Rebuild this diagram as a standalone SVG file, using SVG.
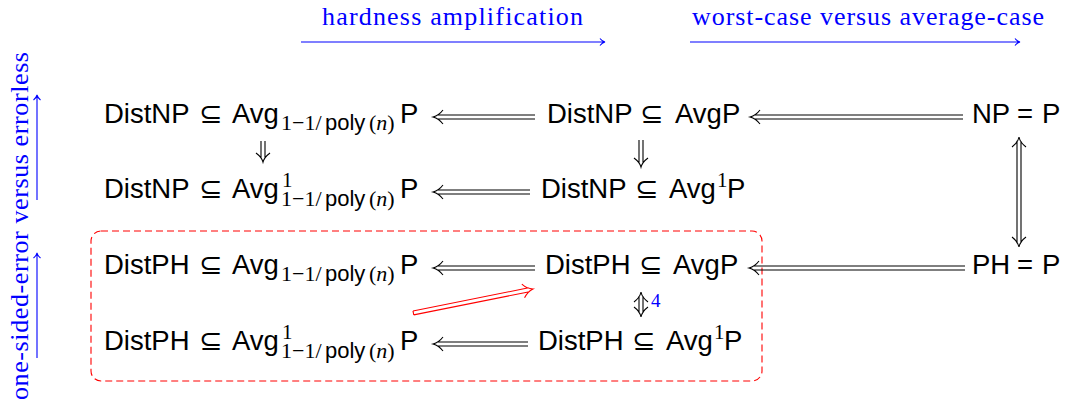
<svg xmlns="http://www.w3.org/2000/svg" width="1072" height="414" viewBox="0 0 1072 414">
<style>
.m{font-family:"Liberation Sans","DejaVu Sans",sans-serif;font-size:27.5px;fill:#000}
.r{font-family:"Liberation Serif","DejaVu Serif",serif;font-size:22px}
.s{font-family:"Liberation Sans","DejaVu Sans",sans-serif;font-size:22px}
.rel{font-family:"DejaVu Sans",sans-serif;font-size:28px}
.sup{font-family:"Liberation Serif","DejaVu Serif",serif;font-size:21px}
.bl{font-family:"Liberation Serif","DejaVu Serif",serif;font-size:26px;fill:#0000ff}
.ln{fill:none;stroke:#000;stroke-width:1.1}
.red{fill:none;stroke:#ff0000;stroke-width:1.1}
.blu{fill:none;stroke:#0000ff;stroke-width:1.1}
</style>
<rect x="0" y="0" width="1072" height="414" fill="#fff"/>

<g id="labels">
<text class="bl" x="452.5" y="25" text-anchor="middle" textLength="261">hardness amplification</text>
<text class="bl" x="868" y="25" text-anchor="middle" textLength="352">worst-case versus average-case</text>
<text class="bl" transform="translate(28,226) rotate(-90)" x="0" y="0" text-anchor="middle" textLength="348">one-sided-error versus errorless</text>
<text x="651" y="307" font-family="Liberation Serif, serif" font-size="19" fill="#0000ff">4</text>
</g>

<rect id="box" x="91" y="231" width="671" height="150" rx="10" fill="none" stroke="#ff0000" stroke-width="1.1" stroke-dasharray="7 4"/>

<g id="n1" class="m"><text y="123"><tspan x="104">DistNP</tspan><tspan class="rel" x="199">⊆</tspan><tspan x="232">Avg</tspan><tspan class="r" x="281" y="130">1−1/</tspan><tspan class="s" x="325" y="130">poly</tspan><tspan class="r" x="369" y="130">(<tspan font-style="italic">n</tspan>)</tspan><tspan x="400" y="123">P</tspan></text></g>
<g id="n2" class="m"><text y="123"><tspan x="547">DistNP</tspan><tspan class="rel" x="640">⊆</tspan><tspan x="675">AvgP</tspan></text></g>
<g id="n3" class="m"><text y="123"><tspan x="972">NP</tspan><tspan x="1017">=</tspan><tspan x="1042">P</tspan></text></g>

<g id="n4" class="m"><text y="198"><tspan x="104">DistNP</tspan><tspan class="rel" x="199">⊆</tspan><tspan x="232">Avg</tspan><tspan class="sup" x="282" y="187">1</tspan><tspan class="r" x="281" y="206">1−1/</tspan><tspan class="s" x="325" y="206">poly</tspan><tspan class="r" x="369" y="206">(<tspan font-style="italic">n</tspan>)</tspan><tspan x="400" y="198">P</tspan></text></g>
<g id="n5" class="m"><text y="198"><tspan x="541">DistNP</tspan><tspan class="rel" x="635">⊆</tspan><tspan x="669">Avg</tspan><tspan class="sup" x="717" y="187">1</tspan><tspan x="727" y="198">P</tspan></text></g>

<g id="n6" class="m"><text y="274"><tspan x="104">DistPH</tspan><tspan class="rel" x="199">⊆</tspan><tspan x="232">Avg</tspan><tspan class="r" x="281" y="281">1−1/</tspan><tspan class="s" x="325" y="281">poly</tspan><tspan class="r" x="369" y="281">(<tspan font-style="italic">n</tspan>)</tspan><tspan x="400" y="274">P</tspan></text></g>
<g id="n7" class="m"><text y="274"><tspan x="545">DistPH</tspan><tspan class="rel" x="639">⊆</tspan><tspan x="673">AvgP</tspan></text></g>
<g id="n8" class="m"><text y="274"><tspan x="972">PH</tspan><tspan x="1017">=</tspan><tspan x="1042">P</tspan></text></g>

<g id="n9" class="m"><text y="350"><tspan x="104">DistPH</tspan><tspan class="rel" x="199">⊆</tspan><tspan x="232">Avg</tspan><tspan class="sup" x="282" y="339">1</tspan><tspan class="r" x="281" y="358">1−1/</tspan><tspan class="s" x="325" y="358">poly</tspan><tspan class="r" x="369" y="358">(<tspan font-style="italic">n</tspan>)</tspan><tspan x="400" y="350">P</tspan></text></g>
<g id="n10" class="m"><text y="350"><tspan x="538">DistPH</tspan><tspan class="rel" x="632">⊆</tspan><tspan x="666">Avg</tspan><tspan class="sup" x="714" y="339">1</tspan><tspan x="724" y="350">P</tspan></text></g>

<g id="connectors">
<path class="ln" d="M535 115H437M535 119H437M443 110C440 114 436 116.2 433 117C436 117.8 440 120 443 124"/>
<path class="ln" d="M963 115H754M963 119H754M760 110C757 114 753 116.2 750 117C753 117.8 757 120 760 124"/>
<path class="ln" d="M530 190H437M530 194H437M443 185C440 189 436 191.2 433 192C436 192.8 440 195 443 199"/>
<path class="ln" d="M535 266H437M535 270H437M443 261C440 265 436 267.2 433 268C436 268.8 440 271 443 275"/>
<path class="ln" d="M965 266H753M965 270H753M759 261C756 265 752 267.2 749 268C752 268.8 756 271 759 275"/>
<path class="ln" d="M528 342H437M528 346H437M443 337C440 341 436 343.2 433 344C436 344.8 440 347 443 351"/>
<path class="ln" d="M261 141V158M265 141V158M256 153C260 156 262.2 159 263 162C263.8 159 266 156 270 153"/>
<path class="ln" d="M639 140V163M643 140V163M634 158C638 161 640.2 164 641 167C641.8 164 644 161 648 158"/>
<path class="ln" d="M1017 141V243M1021 141V243M1012 147C1016 144 1018.2 141 1019 137C1019.8 141 1022 144 1026 147M1012 237C1016 240 1018.2 243 1019 247C1019.8 243 1022 240 1026 237"/>
<path class="ln" d="M639 296V313M643 296V313M634 302C638 299 640.2 296 641 292C641.8 296 644 299 648 302M634 307C638 310 640.2 313 641 317C641.8 313 644 310 648 307"/>
<path class="red" transform="translate(533,289) rotate(-11.31)" d="M-122 -2H-4M-122 2H-4M-122 -2V2M-10 -7C-7 -3 -3 -0.8 0 0C-3 0.8 -7 3 -10 7"/>
<path class="blu" d="M301 42H604M600 38.5C601.5 40.5 603 41.5 605 42C603 42.5 601.5 43.5 600 45.5"/>
<path class="blu" d="M690 42H1019M1015 38.5C1016.5 40.5 1018 41.5 1020 42C1018 42.5 1016.5 43.5 1015 45.5"/>
<path class="blu" d="M37 358V254M33.5 258C35.5 256.5 36.5 255 37 253C37.5 255 38.5 256.5 40.5 258"/>
<path class="blu" d="M37 200V96M33.5 100C35.5 98.5 36.5 97 37 95C37.5 97 38.5 98.5 40.5 100"/>
</g>
</svg>
